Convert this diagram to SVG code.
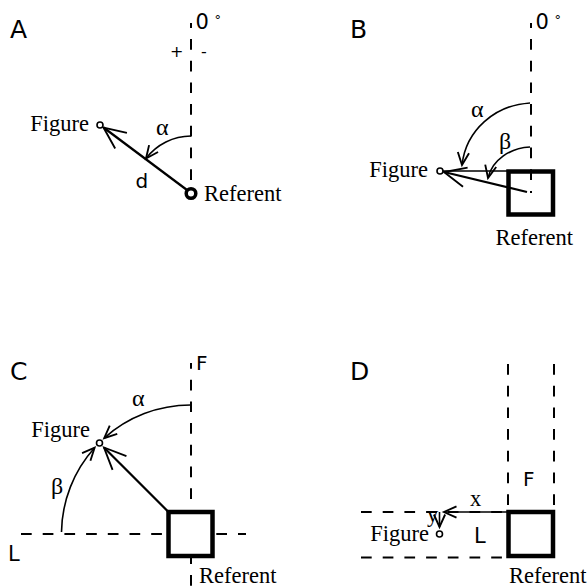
<svg xmlns="http://www.w3.org/2000/svg" width="587" height="587" viewBox="0 0 587 587">
<style>
.dash{stroke:#000;stroke-width:2;fill:none;stroke-dasharray:10.7 11}
.thick{stroke:#000;stroke-width:2.2;fill:none}
.thin{stroke:#000;stroke-width:1.6;fill:none}
.box{stroke:#000;stroke-width:4.5;fill:#fff}
.pt{stroke:#000;stroke-width:1.6;fill:#fff}
.serif{font-family:"Liberation Serif","Times New Roman",serif;font-size:22.5px;fill:#000}
.greek{font-family:"Liberation Serif","Times New Roman",serif;font-size:24px;fill:#000}
.sans{font-family:"DejaVu Sans",sans-serif;fill:#000}
.panel{font-family:"DejaVu Sans",sans-serif;font-size:25px;fill:#000}
</style>
<defs>
<marker id="big" markerUnits="userSpaceOnUse" markerWidth="30" markerHeight="30" viewBox="-22 -12 26 24" refX="0" refY="0" orient="auto" overflow="visible">
<path d="M-19,-8.5 L0,0 L-19,8.5" fill="none" stroke="#000" stroke-width="1.6"/>
</marker>
<marker id="small" markerUnits="userSpaceOnUse" markerWidth="20" markerHeight="20" viewBox="-12 -8 16 16" refX="0" refY="0" orient="auto" overflow="visible">
<path d="M-10,-4.5 L0,0 L-10,4.5" fill="none" stroke="#000" stroke-width="1.5"/>
</marker>
</defs>

<!-- Panel labels -->
<text class="panel" x="10" y="38">A</text>
<text class="panel" x="350" y="38">B</text>
<text class="panel" x="10" y="380">C</text>
<text class="panel" x="350" y="380">D</text>

<!-- Panel A -->
<g id="panelA-axis">
<line class="dash" x1="191" y1="23" x2="191" y2="190" stroke-dashoffset="5.7"/>
<text class="sans" x="195.5" y="29" font-size="21">0</text>
<text class="sans" x="214.5" y="24" font-size="13">°</text>
<text class="sans" x="170" y="57" font-size="16">+</text>
<text class="sans" x="201" y="57" font-size="16">-</text>
</g>
<g id="connectorsA">
<line class="thick" x1="191" y1="193" x2="103.5" y2="127.5" marker-end="url(#big)"/>
<path class="thin" d="M191,136 A57,57 0 0 0 146,158.5" marker-end="url(#small)"/>
<text class="greek" x="156" y="135">α</text>
<text class="sans" x="135.5" y="188" font-size="20">d</text>
</g>
<g id="figureA">
<circle class="pt" cx="100" cy="125" r="3"/>
<text class="serif" x="89" y="131" text-anchor="end">Figure</text>
</g>
<g id="referentA">
<circle cx="191" cy="193.5" r="4.8" fill="#fff" stroke="#000" stroke-width="3.5"/>
<text class="serif" x="204" y="201">Referent</text>
</g>

<!-- Panel B -->
<g id="panelB-axis">
<line class="dash" x1="531" y1="23" x2="531" y2="193" stroke-dashoffset="5.7"/>
<text class="sans" x="535.5" y="29" font-size="21">0</text>
<text class="sans" x="554.5" y="24" font-size="13">°</text>
</g>
<g id="referentB">
<rect class="box" x="508.5" y="171.5" width="44.5" height="43" style="fill:none"/>
<text class="serif" x="495.5" y="245">Referent</text>
</g>
<g id="connectorsB">
<line class="thin" x1="443" y1="171" x2="508" y2="171"/>
<line class="thick" x1="527" y1="192" x2="444" y2="172" marker-end="url(#big)"/>
<path class="thin" d="M530,103 C495,105 466,130 462,165" marker-end="url(#small)"/>
<path class="thin" d="M530,147 C510,148 492,160 488,178" marker-end="url(#small)"/>
<text class="greek" x="471" y="117">α</text>
<text class="greek" x="499" y="149">β</text>
</g>
<g id="figureB">
<circle class="pt" cx="440" cy="171" r="3"/>
<text class="serif" x="428" y="177" text-anchor="end">Figure</text>
</g>

<!-- Panel C -->
<g id="panelC-axes">
<line class="dash" x1="191" y1="363" x2="191" y2="587" stroke-dashoffset="5"/>
<line class="dash" x1="21" y1="534" x2="246" y2="534"/>
<text class="sans" x="196" y="370" font-size="20">F</text>
<text class="sans" x="8" y="561" font-size="21">L</text>
</g>
<g id="referentC">
<rect class="box" x="168.5" y="512" width="44" height="44"/>
<text class="serif" x="199" y="583">Referent</text>
</g>
<g id="connectorsC">
<line class="thick" x1="168.5" y1="512" x2="104" y2="447.5" marker-end="url(#big)"/>
<path class="thin" d="M190.5,405 A129,129 0 0 0 104.2,438.1" marker-end="url(#small)"/>
<path class="thin" d="M61.5,532 A129,129 0 0 1 94.6,447.7" marker-end="url(#small)"/>
<text class="greek" x="132" y="406">α</text>
<text class="greek" x="51" y="494">β</text>
</g>
<g id="figureC">
<circle class="pt" cx="99.5" cy="443" r="3"/>
<text class="serif" x="90" y="437" text-anchor="end">Figure</text>
</g>

<!-- Panel D -->
<g id="panelD-axes">
<line class="dash" x1="508" y1="364" x2="508" y2="512"/>
<line class="dash" x1="554" y1="364" x2="554" y2="512"/>
<line class="dash" x1="361" y1="512" x2="508" y2="512"/>
<line class="dash" x1="361" y1="557.5" x2="508" y2="557.5"/>
<text class="sans" x="523" y="486" font-size="20">F</text>
<text class="sans" x="474" y="543" font-size="21">L</text>
</g>
<g id="referentD">
<rect class="box" x="508.5" y="512" width="44.5" height="44"/>
<text class="serif" x="509" y="583">Referent</text>
</g>
<g id="connectorsD">
<line class="thin" x1="508" y1="512" x2="444" y2="512" stroke-width="2" marker-end="url(#small)"/>
<line class="thin" x1="439.5" y1="512" x2="439.5" y2="527" marker-end="url(#small)"/>
<text class="serif" x="470" y="506" font-size="15">x</text>
<text class="serif" x="427" y="522" font-size="15">y</text>
</g>
<g id="figureD">
<circle class="pt" cx="439.5" cy="534" r="3"/>
<text class="serif" x="429" y="541" text-anchor="end">Figure</text>
</g>
</svg>
